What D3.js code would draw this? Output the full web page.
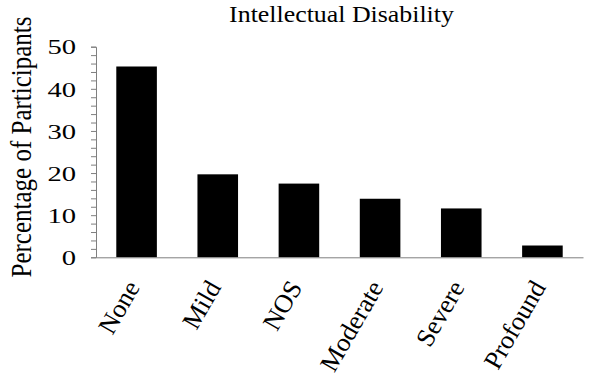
<!DOCTYPE html>
<html>
<head>
<meta charset="utf-8">
<script src="https://cdn.jsdelivr.net/npm/d3@7"></script>
<style>
  body { margin: 0; background: #fff; }
</style>
</head>
<body>
<svg></svg>
<script>
// data
var categories = ["None", "Mild", "NOS", "Moderate", "Severe", "Profound"];
var percentages = [45.3, 19.7, 17.5, 13.9, 11.6, 2.8];
var yTicks = [0, 10, 20, 30, 40, 50];

var serif = "'Liberation Serif', 'Times New Roman', serif";

var svgWidth = 595, svgHeight = 379;
var margin = {top: 46.7, right: 12, bottom: 121.7, left: 96};
var w = svgWidth - margin.left - margin.right,
    h = svgHeight - margin.top - margin.bottom;

var svg = d3.select("svg")
    .attr("width", svgWidth)
    .attr("height", svgHeight);

var g = svg.append("g")
    .attr("transform", "translate(" + margin.left + "," + margin.top + ")");

var x = d3.scaleBand()
    .domain(categories)
    .range([0, w])
    .paddingInner(0.5)
    .paddingOuter(0.25);

var y = d3.scaleLinear()
    .domain([0, 50])
    .range([h, 0]);

// bars
g.selectAll("rect")
    .data(percentages)
    .enter()
    .append("rect")
    .attr("x", function(d, i) { return x(categories[i]); })
    .attr("y", function(d) { return y(d); })
    .attr("width", x.bandwidth())
    .attr("height", function(d) { return h - y(d); })
    .attr("fill", "#000");

// y axis, minor ticks every 2
var yAxis = d3.axisLeft(y)
    .tickValues(d3.range(0, 51, 2))
    .tickSize(5)
    .tickFormat(function(d) { return yTicks.indexOf(d) >= 0 ? d : ""; });

var ya = g.append("g").call(yAxis).attr("font-family", serif);
ya.select(".domain").attr("stroke", "#7f7f7f");
ya.selectAll(".tick line").attr("stroke", "#7f7f7f");
ya.selectAll(".tick text")
    .style("font-family", serif)
    .style("font-size", "22px")
    .attr("fill", "#000")
    .attr("x", 0)
    .attr("dy", "0.33em")
    .attr("transform", "translate(-20,0) scale(1.3,1)");

// x axis line, labels rotated
var xAxis = d3.axisBottom(x).tickSize(0).tickSizeOuter(0).tickPadding(0);
var xa = g.append("g")
    .attr("transform", "translate(0," + h + ")")
    .call(xAxis)
    .attr("font-family", serif);
xa.select(".domain").attr("stroke", "#7f7f7f");
xa.selectAll(".tick text")
    .style("font-family", serif)
    .style("font-size", "26px")
    .attr("fill", "#000")
    .attr("text-anchor", "end")
    .attr("y", 0)
    .attr("dy", null)
    .attr("transform", "translate(4,30) rotate(-60)");

// title
svg.append("text")
    .attr("transform", "translate(341.5,22) scale(1.15,1)")
    .attr("text-anchor", "middle")
    .style("font-family", serif)
    .style("font-size", "22.5px")
    .text("Intellectual Disability");

// y label
svg.append("text")
    .attr("transform", "translate(31,147) scale(1.2,1) rotate(-90)")
    .attr("text-anchor", "middle")
    .style("font-family", serif)
    .style("font-size", "25px")
    .text("Percentage of Participants");
</script>
</body>
</html>
